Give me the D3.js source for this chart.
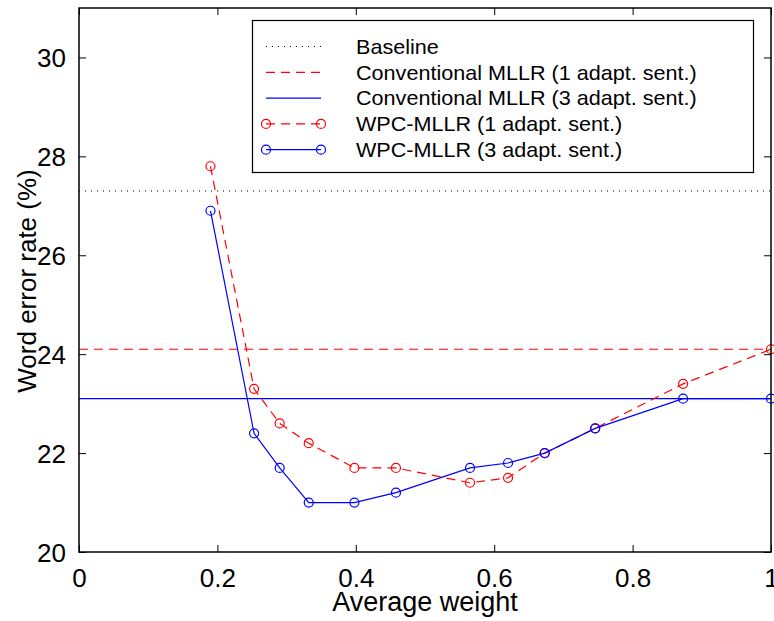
<!DOCTYPE html>
<html>
<head>
<meta charset="utf-8">
<script src="https://cdn.jsdelivr.net/npm/d3@7"></script>
<style>
  html, body { margin: 0; padding: 0; background: #fff; }
  svg { display: block; font-family: "Liberation Sans", Arial, Helvetica, sans-serif; }
</style>
</head>
<body>
<div id="chart"></div>
<script>
// average weight values at which WPC-MLLR was evaluated
const weights = [0.19, 0.253, 0.29, 0.332, 0.398, 0.458, 0.565, 0.62, 0.673, 0.746, 0.873, 1.0];
const wpc1 = [27.8, 23.3, 22.6, 22.2, 21.7, 21.7, 21.4, 21.5, 22.0, 22.5, 23.4, 24.1];
const wpc3 = [26.9, 22.4, 21.7, 21.0, 21.0, 21.2, 21.7, 21.8, 22.0, 22.5, 23.1, 23.1];

// flat reference levels
const baselineWer = 27.3;
const conv1Wer = 24.1;
const conv3Wer = 23.1;

const xTickValues = [0, 0.2, 0.4, 0.6, 0.8, 1];
const yTickValues = [20, 22, 24, 26, 28, 30];

const legendLabels = [
  "Baseline",
  "Conventional MLLR (1 adapt. sent.)",
  "Conventional MLLR (3 adapt. sent.)",
  "WPC-MLLR (1 adapt. sent.)",
  "WPC-MLLR (3 adapt. sent.)",
];

const width = 774;
const height = 621;
const margin = { top: 8, right: 3, bottom: 69, left: 79 };

const RED = "#ff0000";
const BLUE = "#0000ff";
const DASH = "9,6";

const svg = d3.select("#chart")
  .append("svg")
  .attr("width", width)
  .attr("height", height);

const xScale = d3.scaleLinear().domain([0, 1]).range([margin.left, width - margin.right]);
const yScale = d3.scaleLinear().domain([20, 31]).range([height - margin.bottom, margin.top]);

const x0 = xScale.range()[0], x1 = xScale.range()[1];
const y0 = yScale.range()[0], y1 = yScale.range()[1];

// axes: ticks point inward, mirrored on top/right like the original
const tickLen = 7;
const axisBottom = d3.axisBottom(xScale).tickValues(xTickValues).tickSize(-tickLen).tickPadding(tickLen + 10)
  .tickFormat((d) => d3.format("")(d));
const axisLeft = d3.axisLeft(yScale).tickValues(yTickValues).tickSize(-tickLen).tickPadding(tickLen + 6);
const axisTop = d3.axisTop(xScale).tickValues(xTickValues).tickSize(-tickLen).tickFormat("");
const axisRight = d3.axisRight(yScale).tickValues(yTickValues).tickSize(-tickLen).tickFormat("");

function styleAxis(g) {
  g.select(".domain").remove();
  g.selectAll(".tick line").attr("stroke", "#000").attr("stroke-width", 1);
  g.selectAll(".tick text").attr("fill", "#000").attr("font-size", 26);
}

svg.append("g").attr("transform", `translate(0,${y0})`).call(axisBottom).call(styleAxis);
svg.append("g").attr("transform", `translate(${x0},0)`).call(axisLeft).call(styleAxis)
  .selectAll(".tick text").attr("dy", "0.36em");
svg.append("g").attr("transform", `translate(0,${y1})`).call(axisTop).call(styleAxis);
svg.append("g").attr("transform", `translate(${x1},0)`).call(axisRight).call(styleAxis);

// reference lines
function hLine(value, color, dash, w) {
  svg.append("line")
    .attr("x1", x0).attr("x2", x1)
    .attr("y1", yScale(value)).attr("y2", yScale(value))
    .attr("stroke", color)
    .attr("stroke-width", w)
    .attr("stroke-dasharray", dash);
}
hLine(baselineWer, "#000", "1,5", 1);
hLine(conv1Wer, RED, DASH, 1.2);
hLine(conv3Wer, BLUE, null, 1.2);

const line = d3.line().x((d) => xScale(d[0])).y((d) => yScale(d[1]));

function drawSeries(values, color, dash) {
  const pts = weights.map((w, i) => [w, values[i]]);
  svg.append("path")
    .datum(pts)
    .attr("fill", "none")
    .attr("stroke", color)
    .attr("stroke-width", 1.2)
    .attr("stroke-dasharray", dash)
    .attr("d", line);
  svg.append("g")
    .selectAll("circle")
    .data(pts)
    .enter()
    .append("circle")
    .attr("cx", (d) => xScale(d[0]))
    .attr("cy", (d) => yScale(d[1]))
    .attr("r", 4.5)
    .attr("fill", "none")
    .attr("stroke", color)
    .attr("stroke-width", 1.2);
}
drawSeries(wpc1, RED, DASH);
drawSeries(wpc3, BLUE, null);

// plot frame
svg.append("rect")
  .attr("x", x0).attr("y", y1)
  .attr("width", x1 - x0).attr("height", y0 - y1)
  .attr("fill", "none")
  .attr("stroke", "#000")
  .attr("stroke-width", 1.5);

// axis labels
svg.append("text")
  .attr("x", (x0 + x1) / 2)
  .attr("y", 611)
  .attr("text-anchor", "middle")
  .attr("font-size", 27)
  .text("Average weight");

svg.append("text")
  .attr("transform", "rotate(-90)")
  .attr("x", -281)
  .attr("y", 36)
  .attr("text-anchor", "middle")
  .attr("font-size", 26)
  .text("Word error rate (%)");

// legend
const legend = svg.append("g");
legend.append("rect")
  .attr("x", 252.5).attr("y", 20.5)
  .attr("width", 501).attr("height", 152)
  .attr("fill", "#fff")
  .attr("stroke", "#000")
  .attr("stroke-width", 1.2);

const legendStyles = [
  { color: "#000", dash: "1,5", marker: false },
  { color: RED, dash: DASH, marker: false },
  { color: BLUE, dash: null, marker: false },
  { color: RED, dash: DASH, marker: true },
  { color: BLUE, dash: null, marker: true },
];

legendLabels.forEach((label, i) => {
  const st = legendStyles[i];
  const cy = 46.5 + i * 25.8;
  legend.append("line")
    .attr("x1", 266).attr("x2", 321)
    .attr("y1", cy).attr("y2", cy)
    .attr("stroke", st.color)
    .attr("stroke-width", 1.2)
    .attr("stroke-dasharray", st.dash);
  if (st.marker) {
    [266, 321].forEach((cx) => {
      legend.append("circle")
        .attr("cx", cx).attr("cy", cy).attr("r", 4.5)
        .attr("fill", "none")
        .attr("stroke", st.color)
        .attr("stroke-width", 1.2);
    });
  }
  // original glyphs are a little wider than Liberation Sans
  legend.append("text")
    .attr("transform", `translate(356,${cy + 7.3}) scale(1.08,1)`)
    .attr("font-size", 20)
    .text(label);
});
</script>
</body>
</html>
